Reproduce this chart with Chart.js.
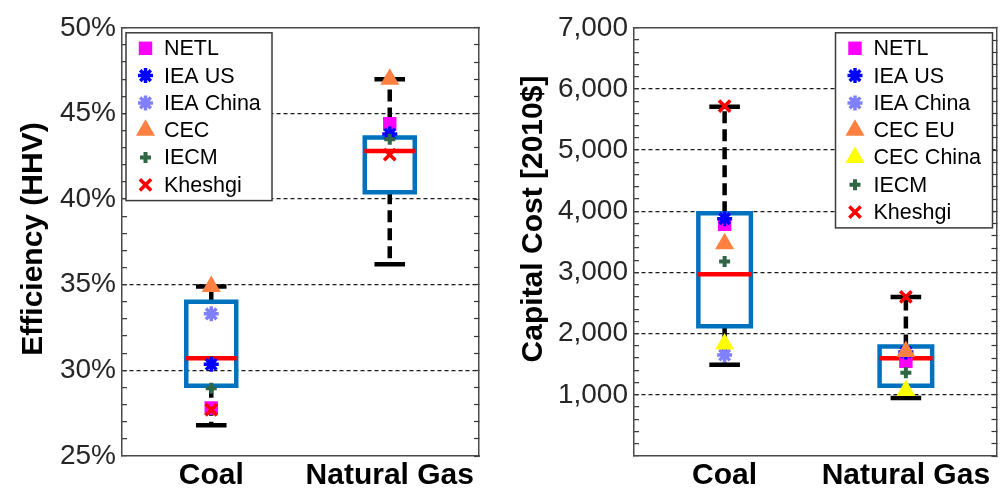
<!DOCTYPE html>
<html>
<head>
<meta charset="utf-8">
<title>Efficiency and Capital Cost</title>
<script src="https://cdn.jsdelivr.net/npm/chart.js@4.4.1/dist/chart.umd.min.js"></script>
<style>
    html, body { margin: 0; padding: 0; background: #fff; }
    #wrap { position: relative; width: 1008px; height: 490px; }
    canvas { position: absolute; top: 0; }
    #effChart { left: 0; }
    #costChart { left: 500px; }
</style>
</head>
<body>
<div id="wrap">
    <canvas id="effChart" width="500" height="490"></canvas>
    <canvas id="costChart" width="508" height="490"></canvas>
</div>
<script>
const categories = ['Coal', 'Natural Gas'];
const categoryPos = [1, 2];

// Efficiency (HHV), percent
const effMin = [26.8, 36.2];
const effQ1 = [29.1, 40.4];
const effMedian = [30.7, 42.8];
const effQ3 = [34.0, 43.6];
const effMax = [34.9, 47.0];
const effNETL = [27.8, 44.4];
const effIEAUS = [30.35, 43.8];
const effIEAChina = [33.3, null];
const effCEC = [34.9, 47.0];
const effIECM = [28.95, 43.5];
const effKheshgi = [27.7, 42.6];
const effTicks = [25, 30, 35, 40, 45, 50];

// Capital cost [2010$]
const costMin = [1490, 950];
const costQ1 = [2120, 1150];
const costMedian = [2970, 1600];
const costQ3 = [3970, 1790];
const costMax = [5710, 2600];
const costNETL = [3790, 1550];
const costIEAUS = [3880, 1700];
const costIEAChina = [1650, null];
const costCECEU = [3470, 1710];
const costCECChina = [1830, 1070];
const costIECM = [3180, 1360];
const costKheshgi = [5720, 2600];
const costTicks = [1000, 2000, 3000, 4000, 5000, 6000, 7000];

const FONT = "'Liberation Sans', Arial, sans-serif";
const FRAME = '#4a4a4a';
const BOX_BLUE = '#0072BD';

const markerStyles = {
    'NETL':      { pointStyle: 'rect', radius: 9.5, color: '#FF00FF', lineWidth: 0 },
    'IEA US':    { pointStyle: 'star', radius: 7.5, color: '#0000FF', lineWidth: 3.5 },
    'IEA China': { pointStyle: 'star', radius: 7.5, color: '#8080FF', lineWidth: 3.5 },
    'CEC':       { pointStyle: 'triangle', radius: 11, color: '#FF8040', lineWidth: 0 },
    'CEC EU':    { pointStyle: 'triangle', radius: 11, color: '#FF8040', lineWidth: 0 },
    'CEC China': { pointStyle: 'triangle', radius: 11, color: '#FFFF00', lineWidth: 0 },
    'IECM':      { pointStyle: 'cross', radius: 5.5, color: '#2F6646', lineWidth: 4 },
    'Kheshgi':   { pointStyle: 'crossRot', radius: 8, color: '#FF0000', lineWidth: 3.5 }
};

function markerDatasets(series) {
    return series.map(function(s, i) {
        const st = markerStyles[s.label];
        return {
            label: s.label,
            data: categoryPos.map((x, k) => ({ x: x, y: s.values[k] })).filter(p => p.y !== null),
            showLine: false,
            pointStyle: st.pointStyle,
            pointRadius: st.radius,
            pointBackgroundColor: st.color,
            pointBorderColor: st.color,
            pointBorderWidth: st.lineWidth,
            order: series.length - i
        };
    });
}

function lineSet(points, color, width, dash, order) {
    return {
        data: points.map(p => ({ x: p[0], y: p[1] })),
        showLine: true,
        pointRadius: 0,
        borderColor: color,
        borderWidth: width,
        borderDash: dash,
        borderJoinStyle: 'miter',
        borderCapStyle: dash.length ? 'butt' : 'square',
        fill: false,
        tension: 0,
        order: order
    };
}

function boxDatasets(min, q1, med, q3, max, half, capHalf) {
    const sets = [];
    categoryPos.forEach(function(c, i) {
        sets.push(lineSet([[c, q3[i]], [c, max[i]]], '#000', 4.5, [12, 6], 103));
        sets.push(lineSet([[c, q1[i]], [c, min[i]]], '#000', 4.5, [12, 6], 103));
        sets.push(lineSet([[c - capHalf, max[i]], [c + capHalf, max[i]]], '#000', 4.5, [], 102));
        sets.push(lineSet([[c - capHalf, min[i]], [c + capHalf, min[i]]], '#000', 4.5, [], 102));
        sets.push(lineSet([[c - half, q1[i]], [c + half, q1[i]], [c + half, q3[i]], [c - half, q3[i]], [c - half, q1[i]]], BOX_BLUE, 4.5, [], 101));
        sets.push(lineSet([[c - half + 0.01, med[i]], [c + half - 0.01, med[i]]], '#FF0000', 4.5, [], 100));
    });
    return sets;
}

function scalesFor(yMin, yMax, yStep, labelFn, gridValues, yAxisWidth) {
    const tickFont = { family: FONT, size: 28 };
    return {
        x: {
            type: 'linear', position: 'bottom', min: 0.5, max: 2.5,
            afterBuildTicks: function(axis) { axis.ticks = categoryPos.map(v => ({ value: v })); },
            afterFit: function(axis) { axis.height = 34; },
            ticks: {
                autoSkip: false, maxRotation: 0, padding: 2, color: '#000',
                font: { family: FONT, size: 30, weight: 'bold' },
                callback: (v, i) => categories[i]
            },
            grid: { display: true, drawOnChartArea: false, drawTicks: false },
            border: { display: true, color: FRAME, width: 1.5 }
        },
        xTop: {
            type: 'linear', position: 'top', min: 0.5, max: 2.5,
            afterFit: function(axis) { axis.height = 0; },
            ticks: { display: false },
            grid: { display: true, drawOnChartArea: false, drawTicks: false },
            border: { display: true, color: FRAME, width: 1.5 }
        },
        y: {
            type: 'linear', position: 'left', min: yMin, max: yMax,
            afterFit: function(axis) { axis.width = yAxisWidth; },
            ticks: {
                stepSize: yStep, autoSkip: false, padding: 11, color: '#262626',
                font: tickFont, callback: labelFn
            },
            grid: {
                color: ctx => (ctx.tick && gridValues.includes(ctx.tick.value)) ? '#1a1a1a' : 'rgba(0,0,0,0)',
                lineWidth: 1.3,
                drawTicks: true, tickLength: -5, tickColor: '#333', tickWidth: 1.2
            },
            border: { display: true, color: FRAME, width: 1.5, dash: [4, 3] }
        },
        yRight: {
            type: 'linear', position: 'right', min: yMin, max: yMax,
            afterFit: function(axis) { axis.width = 0; },
            ticks: { display: false, stepSize: yStep },
            grid: { drawOnChartArea: false, drawTicks: true, tickLength: -5, tickColor: '#333', tickWidth: 1.2 },
            border: { display: true, color: FRAME, width: 1.5 }
        }
    };
}

// legend drawn as a framed box inside the plot area
const boxLegend = {
    id: 'boxLegend',
    afterDraw: function(chart, args, opts) {
        const ctx = chart.ctx;
        const area = chart.chartArea;
        const left = opts.side === 'right' ? area.right - opts.inset - opts.width : area.left + opts.inset;
        const top = area.top + 5;
        const rowH = 27.3;
        const height = opts.labels.length * rowH + 4;
        ctx.save();
        ctx.fillStyle = '#fff';
        ctx.fillRect(left, top, opts.width, height);
        ctx.strokeStyle = '#3a3a3a';
        ctx.lineWidth = 1.5;
        ctx.strokeRect(left, top, opts.width, height);
        opts.labels.forEach(function(label, i) {
            const st = markerStyles[label];
            const y = top + 15.5 + i * rowH;
            ctx.fillStyle = st.color;
            ctx.strokeStyle = st.color;
            ctx.lineWidth = st.lineWidth;
            Chart.helpers.drawPoint(ctx, { pointStyle: st.pointStyle, radius: st.radius, borderWidth: st.lineWidth, rotation: 0 }, left + 19.5, y);
            ctx.fillStyle = '#000';
            ctx.font = '21.5px ' + FONT;
            ctx.textAlign = 'left';
            ctx.textBaseline = 'middle';
            ctx.fillText(label, left + 38, y + 1);
        });
        ctx.restore();
    }
};

const yTitle = {
    id: 'yTitle',
    afterDraw: function(chart, args, opts) {
        const ctx = chart.ctx;
        ctx.save();
        ctx.translate(opts.x, opts.y);
        ctx.rotate(-Math.PI / 2);
        ctx.font = 'bold 30px ' + FONT;
        ctx.fillStyle = '#000';
        ctx.textAlign = 'center';
        ctx.textBaseline = 'middle';
        ctx.fillText(opts.text, 0, 0);
        ctx.restore();
    }
};

function makeChart(canvasId, datasets, scales, padding, legendOpts, titleOpts) {
    return new Chart(document.getElementById(canvasId), {
        type: 'scatter',
        data: { datasets: datasets },
        options: {
            responsive: false,
            devicePixelRatio: 1,
            animation: false,
            events: [],
            layout: { padding: padding },
            scales: scales,
            plugins: {
                legend: { display: false },
                tooltip: { enabled: false },
                boxLegend: legendOpts,
                yTitle: titleOpts
            }
        },
        plugins: [boxLegend, yTitle]
    });
}

document.addEventListener('DOMContentLoaded', function() {
    const effSeries = [
        { label: 'NETL', values: effNETL },
        { label: 'IEA US', values: effIEAUS },
        { label: 'IEA China', values: effIEAChina },
        { label: 'CEC', values: effCEC },
        { label: 'IECM', values: effIECM },
        { label: 'Kheshgi', values: effKheshgi }
    ];
    makeChart('effChart',
        markerDatasets(effSeries).concat(boxDatasets(effMin, effQ1, effMedian, effQ3, effMax, 0.14, 0.073)),
        scalesFor(25, 50, 1, v => effTicks.includes(v) ? v + '%' : '', effTicks.slice(1, -1), 122),
        { left: 0, right: 21, top: 23, bottom: 0 },
        { side: 'left', inset: 4, width: 146, labels: effSeries.map(s => s.label) },
        { text: 'Efficiency (HHV)', x: 33.5, y: 239 }
    );

    const costSeries = [
        { label: 'NETL', values: costNETL },
        { label: 'IEA US', values: costIEAUS },
        { label: 'IEA China', values: costIEAChina },
        { label: 'CEC EU', values: costCECEU },
        { label: 'CEC China', values: costCECChina },
        { label: 'IECM', values: costIECM },
        { label: 'Kheshgi', values: costKheshgi }
    ];
    makeChart('costChart',
        markerDatasets(costSeries).concat(boxDatasets(costMin, costQ1, costMedian, costQ3, costMax, 0.145, 0.072)),
        scalesFor(0, 7000, 200, v => costTicks.includes(v) ? v.toLocaleString('en-US') : '', costTicks.slice(0, -1), 134),
        { left: 0, right: 7, top: 23, bottom: 0 },
        { side: 'right', inset: 4, width: 157, labels: costSeries.map(s => s.label) },
        { text: 'Capital Cost [2010$]', x: 33.5, y: 219 }
    );
});
</script>
</body>
</html>
